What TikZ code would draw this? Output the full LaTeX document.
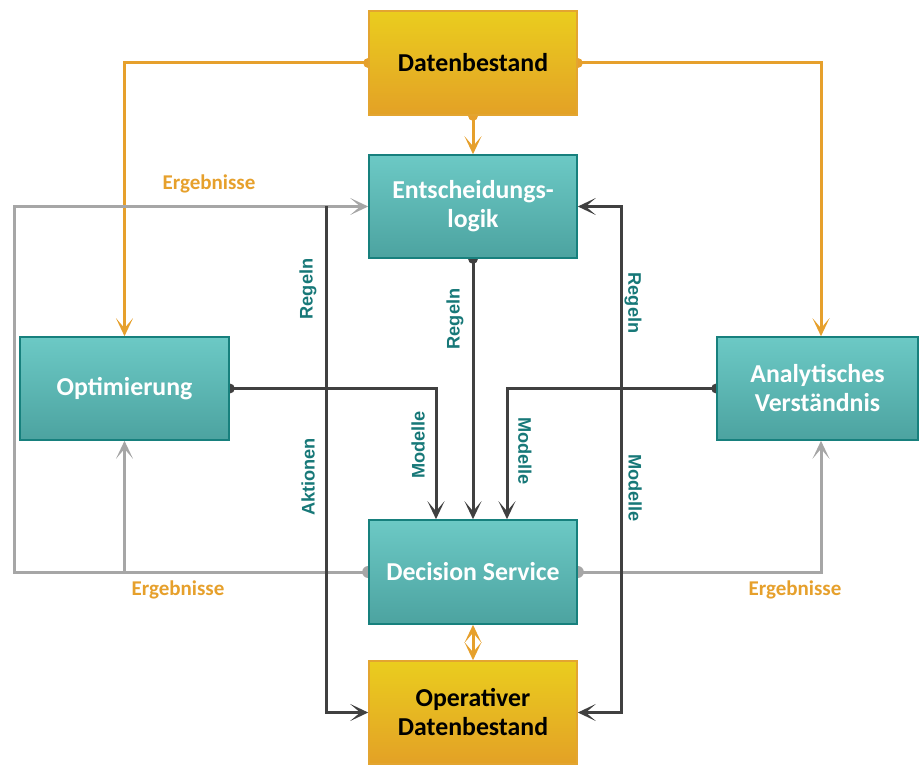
\documentclass[tikz,border=0pt]{standalone}
\usepackage{fontspec}
\setmainfont{Carlito}
\newfontfamily\arialf{Liberation Sans}
\usetikzlibrary{arrows.meta,calc,backgrounds}
\definecolor{tealtop}{HTML}{6CC9C5}
\definecolor{tealbot}{HTML}{4CA3A0}
\definecolor{tealedge}{HTML}{17807D}
\definecolor{goldtop}{HTML}{EACD1E}
\definecolor{goldbot}{HTML}{E3A126}
\definecolor{goldedge}{HTML}{E3A530}
\definecolor{orline}{HTML}{E6A02C}
\definecolor{grline}{HTML}{A6A6A6}
\definecolor{dkline}{HTML}{404040}
\definecolor{labteal}{HTML}{177878}
\tikzset{
  tbox/.style={draw=tealedge, line width=1.6pt, top color=tealtop, bottom color=tealbot,
    text=white, font=\bfseries\fontsize{25.8}{29}\selectfont, align=center,
    minimum width=208pt, minimum height=103pt, inner sep=0pt},
  gbox/.style={draw=goldedge, line width=1.6pt, top color=goldtop, bottom color=goldbot,
    text=black, font=\bfseries\fontsize{25.8}{29}\selectfont, align=center,
    minimum width=208pt, minimum height=104pt, inner sep=0pt},
  tip/.tip={Stealth[length=18pt,width=17pt,inset=10pt]},
  conn/.style={line width=3pt, -tip},
  orc/.style={conn, draw=orline, color=orline},
  grc/.style={conn, draw=grline, color=grline},
  dkc/.style={conn, draw=dkline, color=dkline},
  lab/.style={text=labteal, font=\arialf\bfseries\fontsize{18.2}{21}\selectfont, inner sep=0pt},
  erg/.style={text=orline, font=\bfseries\fontsize{21}{24}\selectfont, inner sep=0pt},
}
\begin{document}
\begin{tikzpicture}[x=1pt,y=-1pt]
\useasboundingbox (0,0) rectangle (919,765);
% boxes
\node[gbox] (dat) at (473,63) {Datenbestand};
\node[tbox] (ent) at (473,206.5) {Entscheidungs-\\logik};
\node[tbox, minimum width=209pt] (opt) at (124.5,388.5) {Optimierung};
\node[tbox, minimum width=201pt] (ana) at (817.5,388.5) {Analytisches\\Verständnis};
\node[tbox, minimum height=104pt] (ds) at (473,572) {Decision Service};
\node[gbox, minimum height=103pt] (op) at (473,712.5) {Operativer\\Datenbestand};
% helper coordinates
\coordinate (anx) at (821,0);
\coordinate (gl) at (14,572);
\coordinate (dl) at (436,0);
\coordinate (dr) at (507,0);
\coordinate (lx) at (326,0);
\coordinate (rx) at (621,388);
\begin{scope}[on background layer]
% orange
\draw[orc] (dat.west) -| (opt.north);
\draw[orc] (dat.east) -| (ana.north -| anx);
\draw[orc] (dat.south) -- (ent.north);
\draw[orc, tip-tip] (ds.south) -- (op.north);
\fill[orline] (dat.west) circle (5) (dat.east) circle (5) (dat.south) circle (5);
% gray
\draw[grc] (ds.west) -- (gl) |- (ent.west);
\draw[grc] (ds.west -| opt.south) -- (opt.south);
\draw[grc] (ds.east) -| (ana.south -| anx);
\fill[grline] (ds.west) circle (6) (ds.east) circle (6);
% dark
\draw[dkc] (ent.south) -- (ds.north);
\draw[dkc] (opt.east) -| (ds.north -| dl);
\draw[dkc] (ana.west) -| (ds.north -| dr);
\draw[dkc] (ent.west -| lx) |- (op.west);
\draw[dkc, tip-tip] (ent.east) -| (rx) |- (op.east);
\fill[dkline] (ent.south) circle (5) (opt.east) circle (5) (ana.west) circle (5);
\end{scope}
% labels
\node[lab, rotate=90] (l1) at (308,289) {Regeln};
\node[lab, rotate=90] (l2) at (308,477) {Aktionen};
\node[lab, rotate=90] (l3) at (455,319) {Regeln};
\node[lab, rotate=90] (l4) at (418,445) {Modelle};
\node[lab, rotate=-90] (l5) at (525,451) {Modelle};
\node[lab, rotate=-90] (l6) at (633,303) {Regeln};
\node[lab, rotate=-90] (l7) at (635,488) {Modelle};
\node[erg] (e1) at (209,184) {Ergebnisse};
\node[erg] (e2) at (178,590) {Ergebnisse};
\node[erg] (e3) at (795,590) {Ergebnisse};
\end{tikzpicture}
\end{document}
